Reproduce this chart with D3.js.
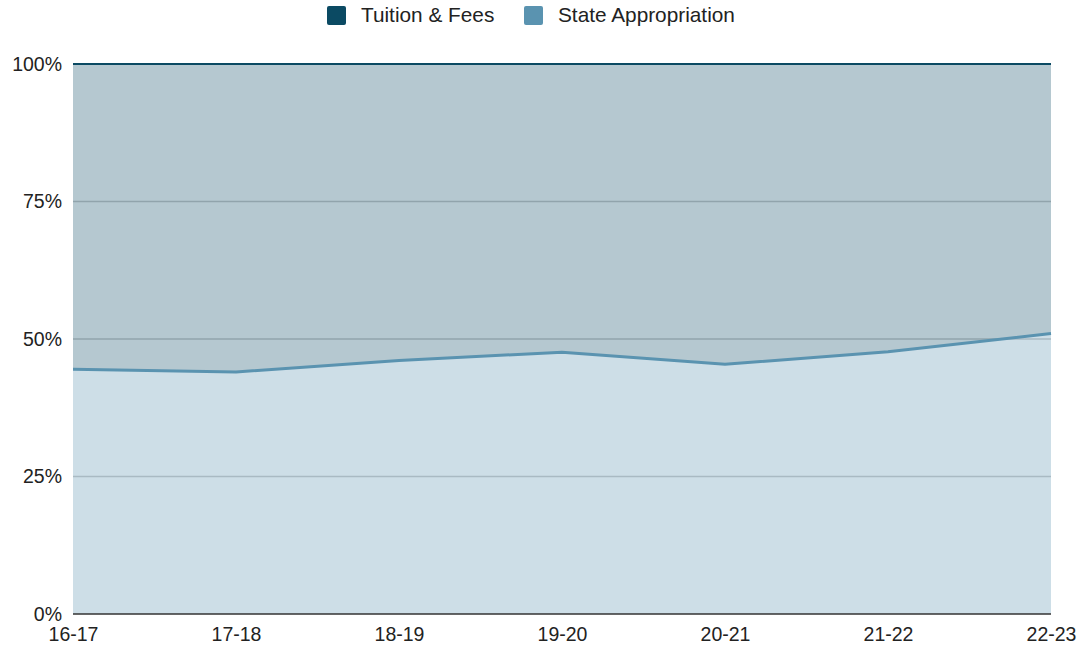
<!DOCTYPE html>
<html lang="en">
<head>
<meta charset="UTF-8">
<title>Tuition vs State Appropriation</title>
<script src="https://cdn.jsdelivr.net/npm/d3@7"></script>
<style>
    body { margin: 0; background: #fff; }
    .tick text { font-family: "Liberation Sans", Arial, sans-serif; font-size: 19.5px; fill: #222; }
    .legend text { font-family: "Liberation Sans", Arial, sans-serif; font-size: 20.8px; fill: #222; }
</style>
</head>
<body>
<div id="chart"></div>
<script>
    // data (percent of total)
    var years = ["16-17", "17-18", "18-19", "19-20", "20-21", "21-22", "22-23"];
    var stateAppropriation = [44.5, 44.0, 46.1, 47.6, 45.4, 47.7, 51.0];
    var tuitionFees = [55.5, 56.0, 53.9, 52.4, 54.6, 52.3, 49.0];
    var yTicks = [0, 25, 50, 75, 100];

    var seriesNames = ["Tuition & Fees", "State Appropriation"];
    var seriesColors = ["#0b4a63", "#5a93b0"];

    var W = 1078, H = 649;
    var margin = {top: 64, right: 27, bottom: 35, left: 73};
    var width = W - margin.left - margin.right,
        height = H - margin.top - margin.bottom;

    var svg = d3.select("#chart").append("svg")
        .attr("width", W)
        .attr("height", H);

    var g = svg.append("g")
        .attr("transform", "translate(" + margin.left + "," + margin.top + ")");

    var x = d3.scalePoint().domain(years).range([0, width]);
    var y = d3.scaleLinear().domain([0, 100]).range([height, 0]);

    var rows = years.map(function(yr, i) {
        return {year: yr, state: stateAppropriation[i], tuition: tuitionFees[i]};
    });

    // state at bottom, tuition stacked on top
    var stacked = d3.stack().keys(["state", "tuition"])(rows);
    var colorOf = {state: seriesColors[1], tuition: seriesColors[0]};

    // gridlines (under areas)
    g.append("g").selectAll("line")
        .data(yTicks.filter(function(t) { return t > 0 && t < 100; }))
        .enter().append("line")
        .attr("x1", 0).attr("x2", width)
        .attr("y1", function(d) { return y(d); })
        .attr("y2", function(d) { return y(d); })
        .attr("stroke", "#cccccc")
        .attr("stroke-width", 1.5);

    var area = d3.area()
        .x(function(d) { return x(d.data.year); })
        .y0(function(d) { return y(d[0]); })
        .y1(function(d) { return y(d[1]); });

    var line = d3.line()
        .x(function(d) { return x(d.data.year); })
        .y(function(d) { return y(d[1]); });

    g.selectAll(".area")
        .data(stacked)
        .enter().append("path")
        .attr("class", "area")
        .attr("d", area)
        .attr("fill", function(d) { return colorOf[d.key]; })
        .attr("fill-opacity", 0.3);

    // baseline axis
    g.append("line")
        .attr("x1", 0).attr("x2", width)
        .attr("y1", y(0)).attr("y2", y(0))
        .attr("stroke", "#333")
        .attr("stroke-width", 1.5);

    g.selectAll(".sline")
        .data(stacked)
        .enter().append("path")
        .attr("class", "sline")
        .attr("d", line)
        .attr("fill", "none")
        .attr("stroke", function(d) { return colorOf[d.key]; })
        .attr("stroke-width", function(d) { return d.key === "state" ? 3 : 2; });

    // y axis labels
    var yAxis = g.append("g")
        .call(d3.axisLeft(y).tickValues(yTicks).tickFormat(function(d) { return d + "%"; }).tickSize(0).tickPadding(11));
    yAxis.select(".domain").remove();

    // x axis labels
    var xAxis = g.append("g")
        .attr("transform", "translate(0," + height + ")")
        .call(d3.axisBottom(x).tickSize(0).tickPadding(13));
    xAxis.select(".domain").remove();
    xAxis.selectAll("text").attr("dy", "0.71em");

    // legend
    var legend = svg.append("g").attr("class", "legend");
    var legendX = [327, 524];
    seriesNames.forEach(function(name, i) {
        legend.append("rect")
            .attr("x", legendX[i]).attr("y", 6)
            .attr("width", 19).attr("height", 19)
            .attr("rx", 2)
            .attr("fill", seriesColors[i]);
        legend.append("text")
            .attr("x", legendX[i] + 34).attr("y", 22)
            .text(name);
    });
</script>
</body>
</html>
